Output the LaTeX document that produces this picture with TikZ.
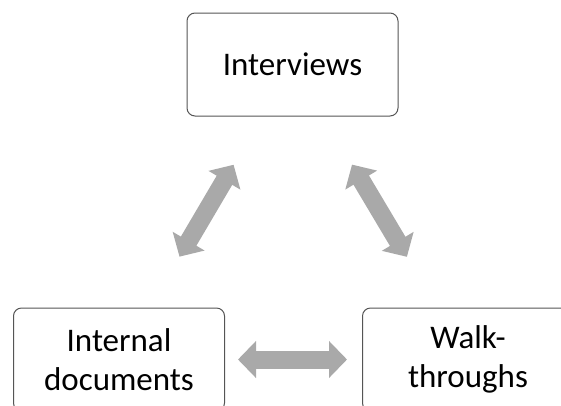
\documentclass[tikz,border=0pt]{standalone}
\usepackage{fontspec}
\setmainfont{Carlito}
\usetikzlibrary{arrows.meta,positioning}

\definecolor{arrowgray}{RGB}{169,169,169}
\definecolor{boxline}{RGB}{85,85,85}

\begin{document}
\begin{tikzpicture}[x=1pt, y=-1pt,
    srcbox/.style={draw=boxline, line width=1pt, rounded corners=8pt, fill=white,
      minimum width=211pt, minimum height=103pt, inner sep=0pt, align=center,
      font=\fontsize{33}{39.6}\selectfont},
    bigarrow/.style={draw=arrowgray, line width=18pt,
      {Triangle[length=18pt,width=36pt]}-{Triangle[length=18pt,width=36pt]}}]
      \useasboundingbox (0,0) rectangle (561,405);
      \clip (0,0) rectangle (561,405);

      \node[srcbox] (interviews) at (292.5,64.5) {Interviews};
      \node[srcbox] (internal) at (119,359.5) {Internal\\documents};
      \node[srcbox, right=137pt of internal] (walk) {Walk-\\throughs};

      \draw[bigarrow, shorten <=56pt, shorten >=59pt] (interviews) -- (internal);
      \draw[bigarrow, shorten <=56pt, shorten >=59pt] (interviews) -- (walk);
      \draw[bigarrow, shorten <=13pt, shorten >=15pt] (internal) -- (walk);
    \end{tikzpicture}
\end{document}
